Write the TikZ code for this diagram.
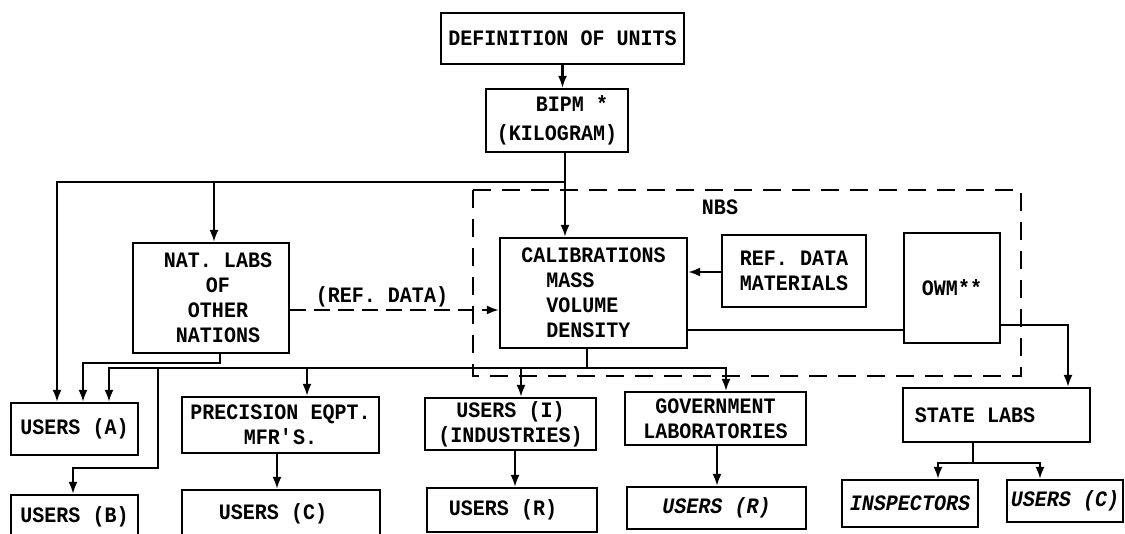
\documentclass[tikz,border=0pt]{standalone}
\usepackage{fontspec}
\setmainfont{Liberation Mono}[FakeStretch=0.91]
\usetikzlibrary{arrows.meta}
\begin{document}
\begin{tikzpicture}[x=1pt,y=-1pt,
  txt/.style={inner sep=0pt, align=center, font=\fontsize{22}{25}\selectfont\bfseries},
  box/.style={txt, draw, line width=2.2pt},
  ln/.style={line width=2.2pt},
  arr/.style={ln, -{Latex[length=12pt,width=9pt]}},
  nbs/.style={line width=2pt, dash pattern=on 18pt off 11pt},
  refdash/.style={dash pattern=on 16pt off 8pt}]
\useasboundingbox[fill=white] (0,0) rectangle (1125,534);

% NBS region
\draw[nbs] (473,190) rectangle (1021,376);
\node[txt] (nbslbl) at (720,207) {NBS};

% boxes
\node[box, minimum width=243pt, minimum height=51pt] (def) at (562.5,38.5) {DEFINITION OF UNITS};
\node[box, minimum width=142pt, minimum height=63pt] (bipm) at (557,120.5) {\hspace*{30pt}BIPM *\\[4pt](KILOGRAM)};
\node[box, minimum width=156pt, minimum height=110pt] (nat) at (211,298) {\hspace*{14pt}NAT. LABS\\\hspace*{14pt}OF\\\hspace*{14pt}OTHER\\\hspace*{14pt}NATIONS};
\node[box, align=left, minimum width=187pt, minimum height=110pt] (cal) at (593.5,293) {CALIBRATIONS\\\hspace*{25pt}MASS\\\hspace*{25pt}VOLUME\\\hspace*{25pt}DENSITY};
\node[box, minimum width=144pt, minimum height=72pt] (ref) at (794,271) {REF. DATA\\MATERIALS};
\node[box, minimum width=96pt, minimum height=110pt] (owm) at (952,288) {OWM**};
\node[box, minimum width=127pt, minimum height=52pt] (ua) at (74.5,429) {USERS (A)};
\node[box, minimum width=127pt, minimum height=43pt] (ub) at (74.5,516.5) {USERS (B)};
\node[box, minimum width=197pt, minimum height=56pt] (prec) at (280.5,425) {PRECISION EQPT.\\MFR\textquotesingle S.};
\node[box, minimum width=198pt, minimum height=48pt] (uc) at (281,514) {USERS (C)\hspace*{16pt}};
\node[box, minimum width=171pt, minimum height=52pt] (ui) at (510.5,424) {USERS (I)\\(INDUSTRIES)};
\node[box, minimum width=170pt, minimum height=44pt] (ur) at (512,510) {USERS (R)\hspace*{18pt}};
\node[box, minimum width=181pt, minimum height=53pt] (gov) at (715.5,418.5) {GOVERNMENT\\LABORATORIES};
\node[box, minimum width=179pt, minimum height=42pt] (ur2) at (716.5,508) {\itshape USERS (R)};
\node[box, minimum width=187pt, minimum height=54pt] (state) at (996.5,415) {STATE LABS\hspace*{43pt}};
\node[box, minimum width=136pt, minimum height=47pt] (insp) at (910,503.5) {\itshape INSPECTORS};
\node[box, minimum width=116pt, minimum height=42pt] (uc2) at (1065,501) {\itshape USERS (C)};

% helper coordinates
\coordinate (xb) at (565,0);
\coordinate (yt) at (0,182);
\coordinate (xa1) at (57,0);
\coordinate (xn) at (214,0);
\coordinate (xn2) at (220,0);
\coordinate (yn) at (0,363);
\coordinate (xa2) at (83,0);
\coordinate (xc) at (587,0);
\coordinate (yb) at (0,368);
\coordinate (xa3) at (109,0);
\coordinate (xg) at (726,0);
\coordinate (xp) at (307,0);
\coordinate (xi) at (521,0);
\coordinate (xbb) at (158,0);
\coordinate (yb2) at (0,468);
\coordinate (xb3) at (73,0);
\coordinate (yd) at (0,310);
\coordinate (yr) at (0,272);
\coordinate (yo) at (0,330);
\coordinate (yo2) at (0,325);
\coordinate (xs) at (1068,0);
\coordinate (xs2) at (973,0);
\coordinate (ys) at (0,463);
\coordinate (xi1) at (938,0);
\coordinate (xu1) at (1040,0);
\coordinate (xp2) at (277,0);
\coordinate (xr) at (515,0);
\coordinate (xg2) at (717,0);

% connectors
\draw[arr] (def.south) -- (def.south |- bipm.north);
\draw[arr] (bipm.south -| xb) -- (cal.north -| xb);
\draw[arr] (xb |- yt) -| (ua.north -| xa1);
\draw[arr] (xn |- yt) -- (nat.north -| xn);
\draw[arr] (nat.south -| xn2) -- (xn2 |- yn) -| (ua.north -| xa2);
\draw[ln] (cal.south -| xc) -- (xc |- yb);
\draw[arr] (xc |- yb) -| (gov.north -| xg);
\draw[arr] (xc |- yb) -| (ua.north -| xa3);
\draw[arr] (xp |- yb) -- (prec.north -| xp);
\draw[arr] (xi |- yb) -- (ui.north -| xi);
\draw[arr] (xbb |- yb) -- (xbb |- yb2) -| (ub.north -| xb3);
\draw[arr, refdash] (nat.east |- yd) -- (cal.west |- yd)
  node[txt, pos=0.44, yshift=13pt] (refl) {(REF. DATA)};
\draw[arr] (ref.west |- yr) -- (cal.east |- yr);
\draw[ln] (cal.east |- yo) -- (owm.west |- yo);
\draw[arr] (owm.east |- yo2) -| (state.north -| xs);
\draw[ln] (state.south -| xs2) -- (xs2 |- ys);
\draw[arr] (xs2 |- ys) -| (insp.north -| xi1);
\draw[arr] (xs2 |- ys) -| (uc2.north -| xu1);
\draw[arr] (prec.south -| xp2) -- (uc.north -| xp2);
\draw[arr] (ui.south -| xr) -- (ur.north -| xr);
\draw[arr] (gov.south -| xg2) -- (ur2.north -| xg2);
\end{tikzpicture}
\end{document}
